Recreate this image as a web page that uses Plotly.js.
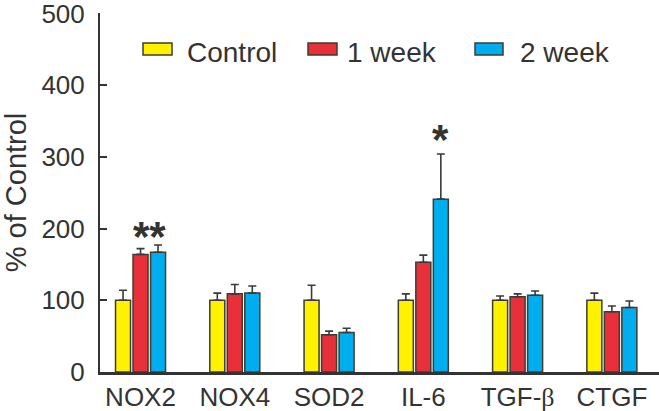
<!DOCTYPE html>
<html>
<head>
<meta charset="utf-8">
<script src="https://cdn.plot.ly/plotly-3.0.1.min.js"></script>
<style>html,body{margin:0;padding:0;background:#fff;}#chart{width:659px;height:411px;}</style>
</head>
<body>
<div id="chart"></div>
<script>
// ---- data ----
const categories = ["NOX2", "NOX4", "SOD2", "IL-6", "TGF-\u03b2", "CTGF"];
const seriesNames = ["Control", "1 week", "2 week"];
const controlVals = [100, 100, 100, 100, 100, 100];
const controlErr  = [14, 10, 21, 9, 6, 10];
const week1Vals   = [164, 109, 52, 153, 105, 84];
const week1Err    = [8, 13, 5, 10, 4, 8];
const week2Vals   = [167, 110, 55, 241, 107, 90];
const week2Err    = [10, 10, 6, 63, 6, 9];
const yTickVals   = [0, 100, 200, 300, 400, 500];
const significance = [
  {cat: "NOX2", text: "**", y: 189, shift: 9},
  {cat: "IL-6", text: "*", y: 324, shift: 17.5}
];

// ---- styles ----
const colors = ["#FFF200", "#E8303A", "#00AEEF"];
const outline = "#3d3d30";
const textColor = "#333333";
const FONT = "Liberation Sans, Arial, sans-serif";

const valsList = [controlVals, week1Vals, week2Vals];
const errList = [controlErr, week1Err, week2Err];

const traces = seriesNames.map((name, i) => ({
  type: "bar",
  name: name,
  x: categories,
  y: valsList[i],
  marker: {color: colors[i], line: {color: outline, width: 1.5}},
  error_y: {
    type: "data", symmetric: false,
    array: errList[i], arrayminus: errList[i].map(() => 0),
    color: "#3a3a3a", thickness: 1.6, width: 4
  },
  showlegend: false
}));

// tick label text: beta drawn in a serif face like the reference
const tickText = categories.map(c => c.replace("\u03b2", '<span style="font-family:Liberation Serif">\u03b2</span>'));

// plot area pixel geometry (for paper-coordinate legend placement)
const L = 100, T = 13, W = 559, H = 359;
const px = (x) => (x - L) / W;
const py = (y) => (T + H - y) / H;

const shapes = [];
const annotations = [];
const legendBoxes = [[143, 172], [308, 337], [475, 503]];
const legendTextX = [185, 345, 518];
seriesNames.forEach((name, i) => {
  shapes.push({
    type: "rect", xref: "paper", yref: "paper",
    x0: px(legendBoxes[i][0]), x1: px(legendBoxes[i][1]),
    y0: py(55), y1: py(43),
    fillcolor: colors[i], line: {color: outline, width: 1.5}
  });
  annotations.push({
    xref: "paper", yref: "paper",
    x: px(legendTextX[i]), y: py(53),
    xanchor: "left", yanchor: "middle",
    text: name, showarrow: false,
    font: {family: FONT, size: 28, color: textColor}
  });
});

significance.forEach(s => {
  annotations.push({
    x: s.cat, y: s.y, xref: "x", yref: "y",
    xshift: s.shift, xanchor: "center", yanchor: "middle",
    text: "<b>" + s.text + "</b>", showarrow: false,
    font: {family: FONT, size: 42, color: textColor}
  });
});

const layout = {
  width: 659, height: 411,
  margin: {l: L, r: 0, t: T, b: 411 - T - H, pad: 0},
  paper_bgcolor: "#ffffff", plot_bgcolor: "#ffffff",
  barmode: "group", bargap: 0.443, bargroupgap: 0.143,
  font: {family: FONT, color: textColor},
  xaxis: {
    range: [-0.43, 5.5],
    tickvals: categories, ticktext: tickText,
    showline: true, linecolor: "#333333", linewidth: 2.5,
    ticks: "", ticklen: 0, showgrid: false, zeroline: false,
    tickfont: {family: FONT, size: 26, color: textColor},
    ticklabelstandoff: 0,
    fixedrange: true
  },
  yaxis: {
    range: [0, 500.6], tickvals: yTickVals,
    ticks: "inside", ticklen: 7, tickwidth: 2, tickcolor: "#333333",
    showline: true, linecolor: "#333333", linewidth: 2,
    showgrid: false, zeroline: false,
    tickfont: {family: FONT, size: 26, color: textColor},
    ticklabelstandoff: 8,
    ticklabeloverflow: "allow",
    title: {text: "% of Control", font: {family: FONT, size: 29, color: textColor}, standoff: 14},
    fixedrange: true
  },
  showlegend: false,
  shapes: shapes,
  annotations: annotations
};

Plotly.newPlot("chart", traces, layout, {displayModeBar: false, staticPlot: true});
</script>
</body>
</html>
